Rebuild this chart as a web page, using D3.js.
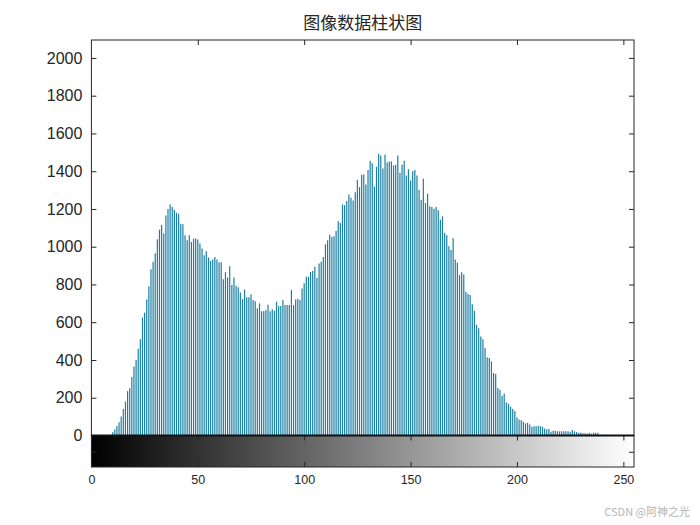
<!DOCTYPE html>
<html>
<head>
<meta charset="utf-8">
<script src="https://cdn.jsdelivr.net/npm/d3@7"></script>
<style>
  html, body { margin: 0; padding: 0; background: #fff; }
  svg { display: block; }
</style>
</head>
<body>
<svg id="chart" width="700" height="525"></svg>
<script>
// ---- data ----
const title = "图像数据柱状图";
const watermark = "CSDN @阿神之光";
// histogram counts for gray levels 0..255
const counts = [
  0,0,0,0,0,0,0,0,0,0,
  17,32,50,70,100,140,180,235,250,310,
  365,400,460,510,625,650,720,790,880,920,
  965,1040,1090,1115,1070,1165,1200,1224,1210,1195,
  1180,1175,1122,1119,1061,1034,1061,1025,1043,1043,
  1038,1017,990,955,976,943,925,932,946,932,
  918,918,828,865,837,897,797,837,792,785,
  758,723,774,732,732,748,718,711,674,700,
  658,658,665,693,658,669,661,709,686,686,
  718,691,691,691,770,690,721,725,718,779,
  806,841,841,867,871,894,834,911,920,946,
  1013,1034,1064,1052,1055,1083,1135,1126,1224,1219,
  1242,1277,1260,1245,1289,1355,1316,1381,1383,1330,
  1407,1456,1442,1319,1424,1492,1483,1414,1488,1446,
  1451,1451,1430,1434,1483,1392,1434,1456,1377,1410,
  1351,1400,1407,1377,1302,1249,1360,1231,1281,1214,
  1210,1201,1210,1193,1143,1161,1073,1061,1003,982,
  1045,932,915,850,865,853,762,749,744,695,
  660,586,568,524,510,463,415,410,392,331,
  326,252,243,211,222,175,168,153,141,130,
  95,85,81,72,64,67,58,46,49,49,
  51,49,46,37,32,34,20,25,25,23,
  22,23,22,23,22,20,29,22,19,15,
  15,12,12,10,15,10,15,15,15,4,
  3,0,0,0,0,0,0,0,0,0,
  0,0,0,0,0,0
];
const yTicks = [0,200,400,600,800,1000,1200,1400,1600,1800,2000];
const xTicks = [0,50,100,150,200,250];
const xDomain = [0, 255];
const yDomain = [0, 2095];

// ---- layout ----
const svg = d3.select("#chart");
const L = 91.4, R = 634, T = 40, B = 435.5;
const cbTop = 435.5, cbBot = 467;
const axisColor = "#262626";
const barColor = "#1a7fa3";

const x = d3.scaleLinear().domain(xDomain).range([L, R]);
const y = d3.scaleLinear().domain(yDomain).range([B, T]);

// title
svg.append("text")
  .attr("x", (L + R) / 2).attr("y", 29)
  .attr("text-anchor", "middle")
  .attr("font-family", "'Noto Sans CJK SC', sans-serif")
  .attr("font-size", 17)
  .attr("fill", axisColor)
  .text(title);

// bars (stems)
const bins = counts.map((c, i) => ({ level: i, count: c })).filter(d => d.count > 0);
svg.append("g")
  .selectAll("line").data(bins).join("line")
  .attr("x1", d => x(d.level)).attr("x2", d => x(d.level))
  .attr("y1", y(0)).attr("y2", d => y(d.count))
  .attr("stroke", barColor).attr("stroke-width", 1.2);

// main axes box
const g = svg.append("g");
g.append("rect").attr("x", L).attr("y", T).attr("width", R - L).attr("height", B - T)
  .attr("fill", "none").attr("stroke", axisColor).attr("stroke-width", 1);

// y axis left (ticks inward)
const yAxisL = d3.axisLeft(y).tickValues(yTicks).tickSize(-5).tickPadding(9).tickFormat(d3.format("d"));
const gyl = svg.append("g").attr("transform", `translate(${L},0)`).call(yAxisL);
gyl.select(".domain").remove();
gyl.selectAll("line").attr("stroke", axisColor);
gyl.selectAll("text").attr("font-family", "'Liberation Sans', Arial, sans-serif")
  .attr("font-size", 16).attr("fill", axisColor);

// y axis right ticks (inward)
const yAxisR = d3.axisRight(y).tickValues(yTicks).tickSize(-5).tickFormat("");
const gyr = svg.append("g").attr("transform", `translate(${R},0)`).call(yAxisR);
gyr.select(".domain").remove();
gyr.selectAll("line").attr("stroke", axisColor);

// top x ticks (inward)
const xAxisTop = d3.axisTop(x).tickValues(xTicks.slice(1)).tickSize(-5).tickFormat("");
const gxt = svg.append("g").attr("transform", `translate(0,${T})`).call(xAxisTop);
gxt.select(".domain").remove();
gxt.selectAll("line").attr("stroke", axisColor);

// colorbar
const defs = svg.append("defs");
const grad = defs.append("linearGradient").attr("id", "grayGrad")
  .attr("x1", "0%").attr("x2", "100%").attr("y1", "0%").attr("y2", "0%");
grad.append("stop").attr("offset", "0%").attr("stop-color", "#000");
grad.append("stop").attr("offset", "100%").attr("stop-color", "#fff");
svg.append("rect").attr("x", L).attr("y", cbTop).attr("width", R - L).attr("height", cbBot - cbTop)
  .attr("fill", "url(#grayGrad)").attr("stroke", axisColor).attr("stroke-width", 1);

// colorbar x ticks (bottom, inward) + labels
const xAxisBot = d3.axisBottom(x).tickValues(xTicks).tickSize(-5).tickPadding(8).tickFormat(d3.format("d"));
const gxb = svg.append("g").attr("transform", `translate(0,${cbBot})`).call(xAxisBot);
gxb.select(".domain").remove();
gxb.selectAll("line").attr("stroke", axisColor);
gxb.selectAll("text").attr("font-family", "'Liberation Sans', Arial, sans-serif")
  .attr("font-size", 12.5).attr("fill", axisColor);

// colorbar top ticks (inward)
const xAxisCbTop = d3.axisTop(x).tickValues(xTicks.slice(1)).tickSize(-5).tickFormat("");
const gxc = svg.append("g").attr("transform", `translate(0,${cbTop})`).call(xAxisCbTop);
gxc.select(".domain").remove();
gxc.selectAll("line").attr("stroke", axisColor);

// colorbar side ticks (mid height)
const cbMid = (cbTop + cbBot) / 2 + 1;
svg.append("line").attr("x1", L).attr("x2", L + 5).attr("y1", cbMid).attr("y2", cbMid).attr("stroke", axisColor);
svg.append("line").attr("x1", R).attr("x2", R - 5).attr("y1", cbMid).attr("y2", cbMid).attr("stroke", axisColor);

// baseline (stem base line)
svg.append("line").attr("x1", L).attr("x2", R).attr("y1", y(0)).attr("y2", y(0))
  .attr("stroke", "#111").attr("stroke-width", 2);

// watermark
svg.append("text").attr("x", 690).attr("y", 516).attr("text-anchor", "end")
  .attr("font-family", "'Noto Sans CJK SC', sans-serif").attr("font-size", 11)
  .attr("fill", "#b5b5b5").text(watermark);
</script>
</body>
</html>
